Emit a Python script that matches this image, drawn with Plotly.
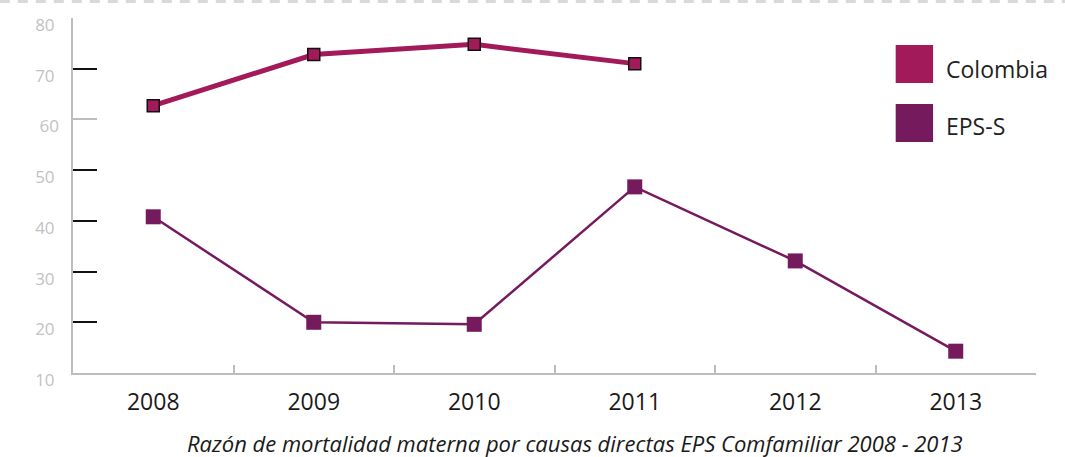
import plotly.graph_objects as go

years = ["2008", "2009", "2010", "2011", "2012", "2013"]
colombia_years = ["2008", "2009", "2010", "2011"]
colombia = [62.7, 72.8, 74.8, 71.0]
eps_s = [40.8, 20.0, 19.6, 46.7, 32.1, 14.3]
y_ticks_black = [10, 20, 30, 40, 50, 70, 80]
y_ticks_gray = [60]
title_text = "Razón de mortalidad materna por causas directas EPS Comfamiliar 2008 - 2013"

C_COL = "#a31a5a"
C_EPS = "#761a5e"
FONT = "Open Sans"

fig = go.Figure()
fig.add_trace(go.Scatter(
    x=colombia_years, y=colombia, mode="lines+markers", name="Colombia",
    line=dict(color=C_COL, width=5),
    marker=dict(symbol="square", size=12, color=C_COL, line=dict(color="#111111", width=1.5)),
    showlegend=False, cliponaxis=False))
fig.add_trace(go.Scatter(
    x=years, y=eps_s, mode="lines+markers", name="EPS-S",
    line=dict(color=C_EPS, width=2.5),
    marker=dict(symbol="square", size=15, color=C_EPS, line=dict(width=0)),
    showlegend=False, cliponaxis=False))
# invisible trace to activate second y axis
fig.add_trace(go.Scatter(x=[years[0]], y=[y_ticks_gray[0]], yaxis="y2", mode="markers",
                         marker=dict(opacity=0), showlegend=False, hoverinfo="skip"))

ytickfont = dict(size=17, color="#c2c2c2", family=FONT)

fig.update_layout(
    width=1065, height=457,
    margin=dict(l=73, r=29, t=18, b=84),
    paper_bgcolor="white", plot_bgcolor="white",
    font=dict(family=FONT),
    xaxis=dict(
        type="category", categoryorder="array", categoryarray=years,
        range=[-0.5, 5.5], showgrid=False, zeroline=False,
        showline=True, linecolor="#bdbdbd", linewidth=2,
        ticks="inside", tickson="boundaries", ticklen=8, tickwidth=2, tickcolor="#bdbdbd",
        tickfont=dict(size=23, color="#1a1a1a", family=FONT),
        ticklabelstandoff=7,
    ),
    yaxis=dict(
        range=[10, 80], showgrid=False, zeroline=False,
        showline=True, linecolor="#bdbdbd", linewidth=2,
        ticks="inside", ticklen=24, tickwidth=2, tickcolor="#111111",
        tickvals=y_ticks_black, ticktext=[str(v) for v in y_ticks_black],
        tickfont=ytickfont, ticklabelstandoff=13, ticklabelshift=7,
        ticklabeloverflow="allow",
    ),
    yaxis2=dict(
        range=[10, 80], overlaying="y", side="left", showgrid=False, zeroline=False,
        showline=False, ticks="inside", ticklen=24, tickwidth=2, tickcolor="#bdbdbd",
        tickvals=y_ticks_gray, ticktext=[str(v) for v in y_ticks_gray],
        tickfont=ytickfont, ticklabelstandoff=13, ticklabelshift=7,
        ticklabeloverflow="allow",
    ),
    shapes=[
        dict(type="line", xref="paper", yref="paper", x0=-0.076, x1=1.031, y0=1.0465, y1=1.0465,
             line=dict(color="#d9d9d9", width=3, dash="10px,8px")),
        dict(type="rect", xref="paper", yref="paper", x0=0.8543, x1=0.8931, y0=0.8169, y1=0.9239,
             fillcolor=C_COL, line=dict(width=0)),
        dict(type="rect", xref="paper", yref="paper", x0=0.8543, x1=0.8931, y0=0.6507, y1=0.7577,
             fillcolor=C_EPS, line=dict(width=0)),
    ],
    annotations=[
        dict(text="Colombia", xref="paper", yref="paper", x=0.9045, y=0.857, xanchor="left",
             yanchor="middle", showarrow=False, font=dict(size=23, color="#231f20", family=FONT)),
        dict(text="EPS-S", xref="paper", yref="paper", x=0.9045, y=0.696, xanchor="left",
             yanchor="middle", showarrow=False, font=dict(size=23, color="#231f20", family=FONT)),
        dict(text="<i>" + title_text + "</i>", xref="paper", yref="paper", x=0.521, y=-0.197,
             xanchor="center", yanchor="middle", showarrow=False,
             font=dict(size=22, color="#1a1a1a", family=FONT)),
    ],
)

fig.write_html("out.html")
